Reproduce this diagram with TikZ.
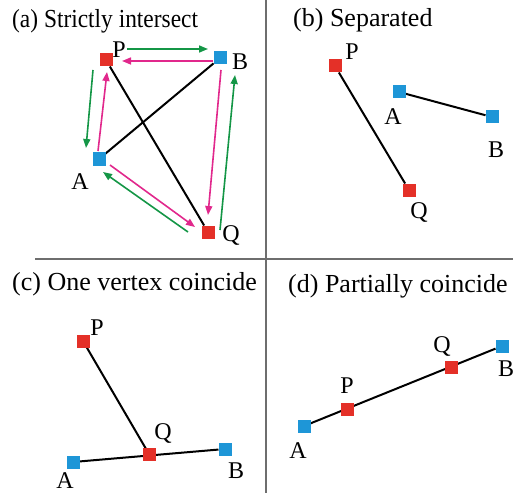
\documentclass[tikz,border=0pt]{standalone}
\usepackage{fontspec}
\setmainfont{Liberation Serif}
\usetikzlibrary{arrows.meta}
\definecolor{sqred}{RGB}{228,48,40}
\definecolor{sqblue}{RGB}{30,150,215}
\definecolor{argreen}{RGB}{20,150,70}
\definecolor{arpink}{RGB}{225,40,140}
\definecolor{divgray}{RGB}{110,110,110}
\tikzset{
  rsq/.style={fill=sqred,draw=none,minimum size=13pt,inner sep=0pt,outer sep=0pt},
  bsq/.style={fill=sqblue,draw=none,minimum size=13pt,inner sep=0pt,outer sep=0pt},
  lbl/.style={font=\fontsize{24}{26}\selectfont,inner sep=0pt},
  ttl/.style={font=\fontsize{26}{28}\selectfont,inner sep=0pt,anchor=base west},
  seg/.style={line width=2pt,black},
  garr/.style={line width=1.6pt,argreen,-{Triangle[length=9pt,width=7pt]}},
  parr/.style={line width=1.6pt,arpink,-{Triangle[length=9pt,width=7pt]}},
  divider/.style={line width=1.6pt,divgray}
}
\begin{document}
\begin{tikzpicture}[x=1pt,y=-1pt]
\useasboundingbox (0,0) rectangle (513,497);
% dividers
\coordinate (vtop) at (266,0);
\coordinate (vbot) at (266,493);
\coordinate (hl) at (35,259);
\coordinate (hr) at (513,259);
\draw[divider] (vtop) -- (vbot);
\draw[divider] (hl) -- (hr);
% titles
\node[ttl,xscale=0.9] (ta) at (12,28) {(a) Strictly intersect};
\node[ttl] (tb) at (293,27) {(b) Separated};
\node[ttl] (tc) at (12,290) {(c) One vertex coincide};
\node[ttl] (td) at (288,292) {(d) Partially coincide};
% ---- (a)
\node[rsq] (aP) at (106,60) {};
\node[bsq] (aB) at (220,58) {};
\node[bsq] (aA) at (99,159) {};
\node[rsq] (aQ) at (208,232) {};
\draw[seg] (aP) -- (aQ);
\draw[seg] (aA) -- (aB);
\node[rsq] at (aP) {};
\node[bsq] at (aB) {};
\node[bsq] at (aA) {};
\node[rsq] at (aQ) {};
\node[lbl] (laP) at (119,50) {P};
\node[lbl] (laB) at (240,62) {B};
\node[lbl] (laA) at (80,182) {A};
\node[lbl] (laQ) at (231,235) {Q};
\draw[garr] ([shift={(21,-11)}]aP.center) -- ([shift={(-12,-9)}]aB.center);
\draw[parr] ([shift={(-7,3)}]aB.center) -- ([shift={(16,1)}]aP.center);
\draw[garr] ([shift={(-13,10)}]aP.center) -- ([shift={(-13,-11)}]aA.center);
\draw[parr] ([shift={(-1,-8)}]aA.center) -- ([shift={(1,12)}]aP.center);
\draw[parr] ([shift={(11,6)}]aA.center) -- ([shift={(-13,-5)}]aQ.center);
\draw[garr] ([shift={(-20,0)}]aQ.center) -- ([shift={(4,13)}]aA.center);
\draw[parr] ([shift={(1,12)}]aB.center) -- ([shift={(0,-17)}]aQ.center);
\draw[garr] ([shift={(12,-2)}]aQ.center) -- ([shift={(15,17)}]aB.center);
% ---- (b)
\node[rsq] (bP) at (335,66) {};
\node[rsq] (bQ) at (409,190) {};
\node[bsq] (bA) at (399,92) {};
\node[bsq] (bB) at (492,117) {};
\draw[seg] (bP) -- (bQ);
\draw[seg] (bA) -- (bB);
\node[rsq] at (bP) {};
\node[rsq] at (bQ) {};
\node[bsq] at (bA) {};
\node[bsq] at (bB) {};
\node[lbl] (lbP) at (352,52) {P};
\node[lbl] (lbQ) at (419,212) {Q};
\node[lbl] (lbA) at (393,117) {A};
\node[lbl] (lbB) at (496,150) {B};
% ---- (c)
\node[rsq] (cP) at (83,341) {};
\node[rsq] (cQ) at (149,454) {};
\node[bsq] (cA) at (73,462) {};
\node[bsq] (cB) at (225,449) {};
\draw[seg] (cP) -- (cQ.center);
\draw[seg] (cA) -- (cB);
\node[rsq] at (cP) {};
\node[rsq] at (cQ) {};
\node[bsq] at (cA) {};
\node[bsq] at (cB) {};
\node[lbl] (lcP) at (97,328) {P};
\node[lbl] (lcQ) at (163,433) {Q};
\node[lbl] (lcA) at (65,481) {A};
\node[lbl] (lcB) at (236,471) {B};
% ---- (d)
\node[bsq] (dA) at (304,426) {};
\node[rsq] (dP) at (347,409) {};
\node[rsq] (dQ) at (451,367) {};
\node[bsq] (dB) at (502,346) {};
\draw[seg] (dA) -- (dB);
\node[bsq] at (dA) {};
\node[rsq] at (dP) {};
\node[rsq] at (dQ) {};
\node[bsq] at (dB) {};
\node[lbl] (ldA) at (298,451) {A};
\node[lbl] (ldP) at (347,386) {P};
\node[lbl] (ldQ) at (442,346) {Q};
\node[lbl] (ldB) at (506,369) {B};
\end{tikzpicture}
\end{document}
